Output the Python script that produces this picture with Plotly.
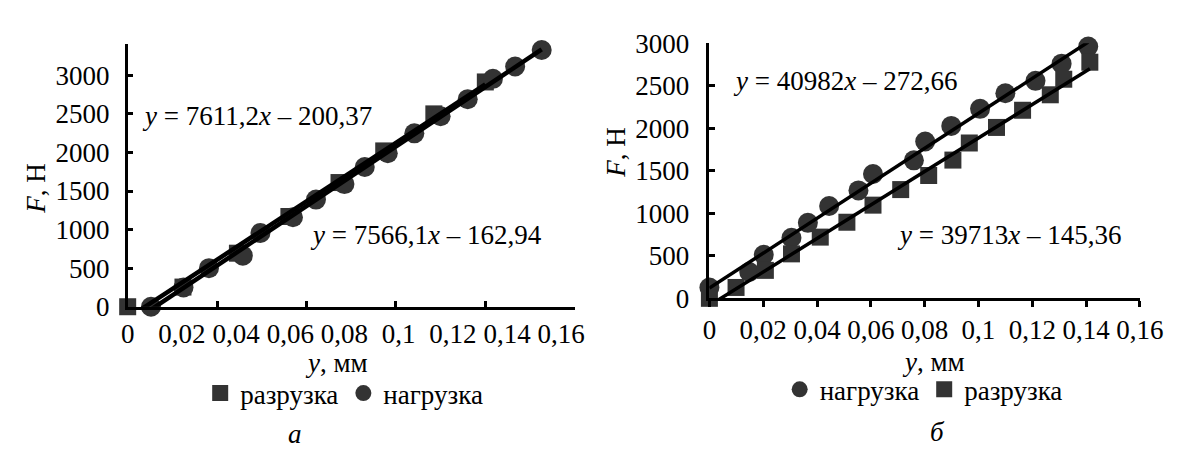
import numpy as np
import plotly.graph_objects as go

# ---------- panel "а" ----------
a_unload_x = [0.0, 0.0204, 0.0405, 0.0595, 0.078, 0.0945, 0.113, 0.132]
a_unload_F = [0, 255, 694, 1170, 1610, 2020, 2500, 2914]
a_load_x = [0.0086, 0.0206, 0.030, 0.0425, 0.049, 0.061, 0.0695, 0.080,
            0.0875, 0.096, 0.1058, 0.1155, 0.1255, 0.1348, 0.143, 0.1528]
a_load_F = [0, 250, 500, 662, 956, 1160, 1389, 1590,
            1812, 1990, 2248, 2470, 2691, 2954, 3115, 3329]
a_eq_load = "<i>y</i> = 7611,2<i>x</i> – 200,37"
a_eq_unload = "<i>y</i> = 7566,1<i>x</i> – 162,94"

# ---------- panel "б" ----------
b_load_x = [0.0, 0.0148, 0.0202, 0.0305, 0.0366, 0.0445, 0.0554, 0.0608,
            0.076, 0.0802, 0.0899, 0.1006, 0.110, 0.1212, 0.1309, 0.1408]
b_load_F = [128, 310, 512, 713, 888, 1086, 1269, 1462,
            1623, 1845, 2028, 2229, 2412, 2558, 2760, 2961]
b_unload_x = [0.0, 0.0099, 0.0208, 0.0305, 0.0412, 0.0511, 0.0608, 0.0711,
              0.0815, 0.0905, 0.0966, 0.1067, 0.1164, 0.1267, 0.1317, 0.1414]
b_unload_F = [0, 128, 329, 523, 720, 895, 1096, 1279,
              1445, 1626, 1827, 2010, 2212, 2394, 2577, 2777]
b_eq_load = "<i>y</i> = 40982<i>x</i> – 272,66"
b_eq_unload = "<i>y</i> = 39713<i>x</i> – 145,36"

x_tick_vals = [0, 0.02, 0.04, 0.06, 0.08, 0.1, 0.12, 0.14, 0.16]
x_tick_text = ["0", "0,02", "0,04", "0,06", "0,08", "0,1", "0,12", "0,14", "0,16"]

name_load = "нагрузка"
name_unload = "разрузка"

FONT = "Liberation Serif, Times New Roman, serif"
MCOL = "#333333"
FS = 27

fig = go.Figure()


def markers(x, y, sym, size, name, xa, ya, leg):
    fig.add_trace(go.Scatter(
        x=x, y=y, mode="markers", name=name, xaxis=xa, yaxis=ya, legend=leg,
        cliponaxis=False,
        marker=dict(symbol=sym, size=size, color=MCOL, line=dict(width=0))))


def trend(x, y, xa, ya, w):
    k, b = np.polyfit(x, y, 1)
    xs = np.array([min(x), max(x)])
    fig.add_trace(go.Scatter(
        x=xs, y=k * xs + b, mode="lines", showlegend=False, xaxis=xa, yaxis=ya,
        line=dict(color="black", width=w), hoverinfo="skip"))


# panel а
markers(a_unload_x, a_unload_F, "square", 17, name_unload, "x", "y", "legend")
markers(a_load_x, a_load_F, "circle", 20, name_load, "x", "y", "legend")
trend(a_unload_x, a_unload_F, "x", "y", 4.5)
trend(a_load_x, a_load_F, "x", "y", 4.5)

# panel б
markers(b_load_x, b_load_F, "circle", 20, name_load, "x2", "y2", "legend2")
markers(b_unload_x, b_unload_F, "square", 17, name_unload, "x2", "y2", "legend2")
trend(b_load_x, b_load_F, "x2", "y2", 3.5)
trend(b_unload_x, b_unload_F, "x2", "y2", 3.5)

W, H = 1189, 450


def px(xp):
    return xp / W


def py(yp):
    return 1 - yp / H


axis_common = dict(showline=True, linecolor="black", linewidth=2.5,
                   showgrid=False, zeroline=False, mirror=False,
                   tickfont=dict(family=FONT, size=FS, color="black"),
                   tickcolor="black", tickwidth=2.5)

fig.update_layout(
    width=W, height=H, margin=dict(l=0, r=0, t=0, b=0),
    paper_bgcolor="white", plot_bgcolor="white",
    font=dict(family=FONT, size=FS, color="black"),
    xaxis=dict(domain=[px(115.7), px(575)], range=[0, 0.1651],
               tickvals=x_tick_vals, ticktext=x_tick_text, ticks="inside",
               ticklen=0, ticklabelstandoff=1,
               minor=dict(ticks="inside", tickmode="linear", tick0=0, dtick=0.033,
                          ticklen=6, tickwidth=2.5, tickcolor="black",
                          showgrid=False),
               anchor="y", **axis_common),
    yaxis=dict(domain=[py(304), py(23)], range=[0, 3400], dtick=500,
               ticks="inside", ticklen=6, ticklabelstandoff=10, anchor="x",
               **axis_common),
    xaxis2=dict(domain=[px(713), px(1155)], range=[0, 0.16],
                tickvals=x_tick_vals, ticktext=x_tick_text, ticks="outside",
                ticklen=6, ticklabelstandoff=0, anchor="y2", **axis_common),
    yaxis2=dict(domain=[py(295), py(21.7)], range=[0, 3000], dtick=500,
                ticks="inside", ticklen=6, ticklabelstandoff=12, anchor="x2",
                **axis_common),
    legend=dict(orientation="h", x=px(338), y=py(397), xanchor="center",
                yanchor="middle", font=dict(family=FONT, size=FS),
                itemwidth=30, bgcolor="rgba(0,0,0,0)", traceorder="normal"),
    legend2=dict(orientation="h", x=px(933), y=py(393), xanchor="center",
                 yanchor="middle", font=dict(family=FONT, size=FS),
                 itemwidth=30, bgcolor="rgba(0,0,0,0)", traceorder="normal"),
)


def note(text, x, y, angle=0):
    fig.add_annotation(text=text, x=px(x), y=py(y), xref="paper", yref="paper",
                       xanchor="center", yanchor="middle", showarrow=False,
                       textangle=angle, font=dict(family=FONT, size=FS, color="black"))


note("<i>F</i>, Н", 22, 177, -90)
note("<i>F</i>, Н", 617, 138, -90)
note("<i>y</i>, мм", 330, 364)
note("<i>y</i>, мм", 943, 363)
note(a_eq_load, 248, 100)
note(a_eq_unload, 422, 227)
note(b_eq_load, 852, 62)
note(b_eq_unload, 1021, 227)
note("<i>а</i>", 287, 440)
note("<i>б</i>", 947, 438)

fig.write_html("out.html")
